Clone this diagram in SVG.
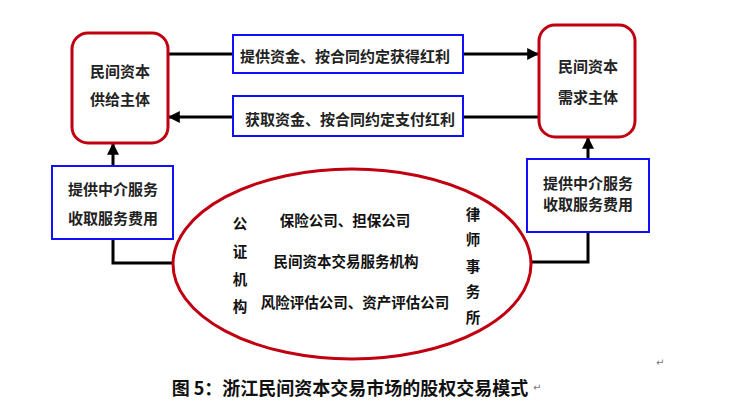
<svg xmlns="http://www.w3.org/2000/svg" width="732" height="406" viewBox="0 0 732 406">
<style>
.red{fill:#fff;stroke:#c00010;stroke-width:3}
.blue{fill:#fff;stroke:#1010ff;stroke-width:2}
.t{font-family:"Noto Sans CJK SC",sans-serif;font-size:15px;font-weight:bold;fill:#222;text-anchor:middle;dominant-baseline:central}
.e{font-family:"Noto Sans CJK SC",sans-serif;font-size:14.5px;font-weight:bold;fill:#111;text-anchor:middle;dominant-baseline:central}
.ln{fill:none;stroke:#000;stroke-width:3}
.pm{font-family:"DejaVu Sans",sans-serif;font-size:10px;fill:#777}
</style>
<defs>
<marker id="ah" viewBox="0 0 10 10" refX="9" refY="5" markerWidth="4" markerHeight="4" orient="auto" markerUnits="strokeWidth">
<path d="M0,0 L10,5 L0,10 z" fill="#000"/>
</marker>
</defs>
<g id="connectors">
<line class="ln" x1="168" y1="54" x2="233" y2="54"/>
<line class="ln" x1="463" y1="54" x2="538" y2="54" marker-end="url(#ah)"/>
<line class="ln" x1="539" y1="117" x2="463" y2="117"/>
<line class="ln" x1="233" y1="117" x2="169" y2="117" marker-end="url(#ah)"/>
<line class="ln" x1="113" y1="166" x2="113" y2="144" marker-end="url(#ah)"/>
<line class="ln" x1="588" y1="159" x2="588" y2="138" marker-end="url(#ah)"/>
<polyline class="ln" points="113,239 113,263 174,263"/>
<polyline class="ln" points="588,232 588,262 531,262"/>
</g>
<g id="supply">
<rect class="red" x="72" y="33" width="96" height="110" rx="16"/>
<text class="t" x="120" y="70">民间资本</text>
<text class="t" x="120" y="98">供给主体</text>
</g>
<g id="demand">
<rect class="red" x="539" y="25" width="96" height="112" rx="16"/>
<text class="t" x="588" y="65">民间资本</text>
<text class="t" x="588" y="96">需求主体</text>
</g>
<g id="provide">
<rect class="blue" x="233" y="35" width="230" height="38"/>
<text class="t" x="345" y="55">提供资金、按合同约定获得红利</text>
</g>
<g id="obtain">
<rect class="blue" x="233" y="96" width="230" height="40"/>
<text class="t" x="350" y="118">获取资金、按合同约定支付红利</text>
</g>
<g id="agentLeft">
<rect class="blue" x="52" y="166" width="121" height="73"/>
<text class="t" x="113" y="188">提供中介服务</text>
<text class="t" x="113" y="217">收取服务费用</text>
</g>
<g id="agentRight">
<rect class="blue" x="527" y="159" width="122" height="73"/>
<text class="t" x="588" y="182">提供中介服务</text>
<text class="t" x="588" y="203">收取服务费用</text>
</g>
<g id="market">
<ellipse cx="352" cy="264" rx="179" ry="95" fill="#fff" stroke="#c00010" stroke-width="3"/>
<text class="e" x="240" y="222">公</text>
<text class="e" x="240" y="250">证</text>
<text class="e" x="240" y="278">机</text>
<text class="e" x="240" y="305">构</text>
<text class="e" x="473" y="213">律</text>
<text class="e" x="473" y="238">师</text>
<text class="e" x="473" y="265">事</text>
<text class="e" x="473" y="290">务</text>
<text class="e" x="473" y="316">所</text>
<text class="e" x="345" y="219">保险公司、担保公司</text>
<text class="e" x="346" y="260">民间资本交易服务机构</text>
<text class="e" x="355" y="301">风险评估公司、资产评估公司</text>
</g>
<text x="350" y="387" font-family="Noto Sans CJK SC, sans-serif" font-size="18" font-weight="bold" fill="#111" text-anchor="middle" dominant-baseline="central">图 5：浙江民间资本交易市场的股权交易模式</text>
<text class="pm" x="533" y="391">↵</text>
<text class="pm" x="656" y="366">↵</text>
</svg>
